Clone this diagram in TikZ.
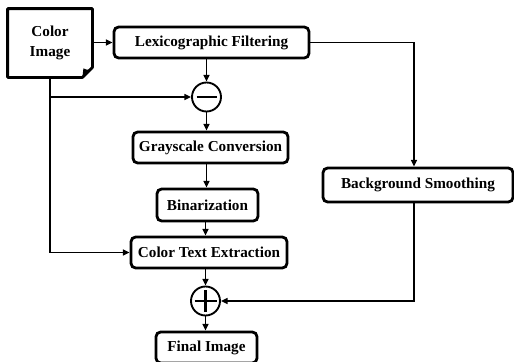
\documentclass[tikz,border=0pt]{standalone}
\usepackage{fontspec}
\setmainfont{Liberation Serif}
\usetikzlibrary{arrows.meta,calc}
\tikzset{every picture/.style={line width=1.1pt}}
\tikzset{
  procbox/.style={draw, rounded corners=3.5pt, line width=2.1pt, inner sep=0pt, align=center, font=\fontsize{11.4}{13.5}\selectfont\bfseries},
  opcircle/.style={draw, circle, line width=1.4pt, inner sep=0pt, minimum size=21.75pt},
  arr/.style={-{Triangle[length=5pt,width=4.5pt]}}
}

\begin{document}
\begin{tikzpicture}[x=0.75pt,y=0.75pt,yscale=-1,xscale=1]
\useasboundingbox (0,0) rectangle (514,361);

% input document
\node (img) [procbox, draw=none, minimum width=61.5pt, minimum height=49.5pt] at (50,43) {Color\\[1pt]Image};
\draw [line width=2.1pt, line join=round] (img.north west) -- (img.north east) -- ($(img.south east)+(0,-10)$) -- ($(img.south east)+(-10,0)$) -- (img.south west) -- cycle ;
\fill ($(img.south east)+(0,-10)$) .. controls ($(img.south east)+(-4,-6)$) and ($(img.south east)+(-7,-8)$) .. ($(img.south east)+(-9,-9)$) -- ($(img.south east)+(-10,0)$) -- cycle ;

% main branch
\node (lex) [procbox, minimum width=146.25pt, minimum height=23.25pt] at (211.5,42.5) {Lexicographic Filtering};
\node (minus) [opcircle] at (206.5,97) {};
\draw [line width=1.9pt] ($(minus.center)+(-10,0)$) -- ($(minus.center)+(10,0)$) ;
\node (gray) [procbox, minimum width=116.25pt, minimum height=23.25pt] at (210.5,147.5) {Grayscale Conversion};
\node (bin) [procbox, minimum width=75.75pt, minimum height=24pt] at (207.5,205) {Binarization};
\node (cte) [procbox, minimum width=117pt, minimum height=23.25pt] at (209,252.5) {Color Text Extraction};
\node (plus) [opcircle] at (205.5,301) {};
\draw [line width=1.9pt] ($(plus.center)+(-11,0)$) -- ($(plus.center)+(11,0)$) ;
\draw [line width=1.9pt] ($(plus.center)+(0,-11)$) -- ($(plus.center)+(0,11)$) ;
\node (final) [procbox, minimum width=75.75pt, minimum height=23.25pt] at (206.5,347.5) {Final Image};

% side branch
\node (bg) [procbox, minimum width=142.5pt, minimum height=25.5pt] at (418,185) {Background Smoothing};

% connectors
\draw [arr] (img.east |- lex.west) -- (lex.west) ;
\draw [arr] (minus |- lex.south) -- (minus.north) ;
\draw [arr] (img.south |- minus.west) -- (minus.west) ;
\draw [arr] (img.south) |- (cte.west) ;
\draw [arr] (minus.south) -- (minus |- gray.north) ;
\draw [arr] (minus |- gray.south) -- (minus |- bin.north) ;
\draw [arr] (plus |- bin.south) -- (plus |- cte.north) ;
\draw [arr] (plus |- cte.south) -- (plus.north) ;
\draw [arr] (plus.south) -- (plus |- final.north) ;
\draw [arr] (lex.east) -| ([xshift=-3pt]bg.north) ;
\draw [arr] ([xshift=-3pt]bg.south) |- (plus.east) ;

\end{tikzpicture}
\end{document}
